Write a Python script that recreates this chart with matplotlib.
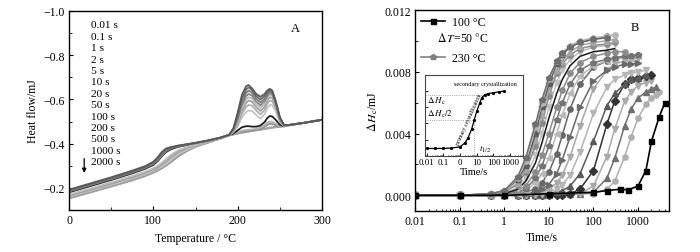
import numpy as np
import matplotlib
matplotlib.use('Agg')
import matplotlib.pyplot as plt
from matplotlib.lines import Line2D
from matplotlib.ticker import MultipleLocator, LogLocator, NullFormatter

plt.rcParams['font.family'] = ['Liberation Serif', 'DejaVu Serif']
plt.rcParams['mathtext.fontset'] = 'stix'
plt.rcParams['axes.unicode_minus'] = True

# ---------------- Panel A data (heat flow vs temperature) ----------------
temp_c = [0, 25, 50, 75, 90, 100, 105, 110, 115, 120, 125, 130, 140, 150, 165, 180,
          190, 195, 200, 205, 210, 213, 217, 222, 227, 232, 235, 238, 241, 245, 250, 255, 260, 280, 300]

anneal_labels = ['0.01 s', '0.1 s', '1 s', '2 s', '5 s', '10 s', '20 s', '50 s',
                 '100 s', '200 s', '500 s', '1000 s', '2000 s']

hf_0p01s = [-0.152, -0.179, -0.206, -0.234, -0.253, -0.268, -0.277, -0.288, -0.300, -0.314, -0.329, -0.343, -0.367, -0.386, -0.405, -0.424,
            -0.437, -0.442, -0.446, -0.450, -0.453, -0.455, -0.457, -0.460, -0.463, -0.466, -0.468, -0.470, -0.472, -0.474, -0.477, -0.480, -0.483, -0.495, -0.508]
hf_0p1s = [-0.154, -0.181, -0.208, -0.236, -0.255, -0.270, -0.279, -0.290, -0.302, -0.316, -0.331, -0.345, -0.368, -0.386, -0.406, -0.424,
           -0.437, -0.442, -0.446, -0.450, -0.453, -0.455, -0.458, -0.461, -0.464, -0.467, -0.470, -0.473, -0.474, -0.475, -0.477, -0.480, -0.483, -0.495, -0.508]
hf_1s = [-0.156, -0.183, -0.210, -0.238, -0.257, -0.272, -0.281, -0.292, -0.304, -0.318, -0.333, -0.347, -0.369, -0.387, -0.406, -0.424,
         -0.438, -0.443, -0.448, -0.453, -0.456, -0.458, -0.460, -0.463, -0.467, -0.476, -0.484, -0.490, -0.489, -0.483, -0.478, -0.479, -0.483, -0.495, -0.508]
hf_2s = [-0.158, -0.185, -0.212, -0.240, -0.259, -0.274, -0.283, -0.294, -0.307, -0.321, -0.336, -0.350, -0.371, -0.388, -0.407, -0.425,
         -0.438, -0.444, -0.450, -0.458, -0.462, -0.463, -0.464, -0.467, -0.472, -0.484, -0.494, -0.500, -0.499, -0.490, -0.480, -0.479, -0.483, -0.495, -0.508]
hf_5s = [-0.180, -0.208, -0.236, -0.266, -0.286, -0.304, -0.320, -0.343, -0.362, -0.373, -0.380, -0.386, -0.394, -0.402, -0.413, -0.427,
         -0.439, -0.446, -0.460, -0.474, -0.479, -0.479, -0.477, -0.477, -0.482, -0.498, -0.515, -0.525, -0.523, -0.508, -0.486, -0.478, -0.483, -0.495, -0.508]
hf_10s = [-0.160, -0.187, -0.214, -0.243, -0.262, -0.277, -0.286, -0.297, -0.310, -0.325, -0.340, -0.354, -0.374, -0.390, -0.408, -0.425,
          -0.438, -0.452, -0.478, -0.518, -0.543, -0.550, -0.548, -0.530, -0.513, -0.533, -0.560, -0.575, -0.573, -0.548, -0.497, -0.479, -0.483, -0.495, -0.508]
hf_20s = [-0.163, -0.190, -0.217, -0.246, -0.265, -0.280, -0.290, -0.302, -0.316, -0.331, -0.346, -0.360, -0.378, -0.392, -0.409, -0.425,
          -0.438, -0.455, -0.488, -0.535, -0.566, -0.575, -0.572, -0.550, -0.532, -0.552, -0.580, -0.595, -0.592, -0.562, -0.502, -0.480, -0.483, -0.495, -0.508]
hf_50s = [-0.166, -0.193, -0.221, -0.250, -0.269, -0.285, -0.295, -0.308, -0.323, -0.339, -0.354, -0.366, -0.382, -0.394, -0.410, -0.426,
          -0.439, -0.458, -0.495, -0.548, -0.585, -0.595, -0.590, -0.565, -0.548, -0.567, -0.594, -0.610, -0.606, -0.572, -0.506, -0.481, -0.483, -0.495, -0.508]
hf_100s = [-0.170, -0.197, -0.225, -0.254, -0.273, -0.289, -0.300, -0.314, -0.330, -0.346, -0.360, -0.371, -0.385, -0.396, -0.411, -0.426,
           -0.439, -0.460, -0.500, -0.560, -0.600, -0.610, -0.604, -0.578, -0.562, -0.580, -0.605, -0.622, -0.617, -0.580, -0.510, -0.482, -0.483, -0.495, -0.508]
hf_200s = [-0.184, -0.212, -0.240, -0.270, -0.290, -0.308, -0.324, -0.346, -0.366, -0.377, -0.383, -0.388, -0.395, -0.402, -0.413, -0.427,
           -0.440, -0.462, -0.510, -0.575, -0.615, -0.625, -0.617, -0.590, -0.574, -0.592, -0.615, -0.630, -0.624, -0.584, -0.512, -0.482, -0.484, -0.495, -0.508]
hf_500s = [-0.186, -0.214, -0.242, -0.272, -0.292, -0.311, -0.329, -0.352, -0.371, -0.380, -0.385, -0.389, -0.396, -0.403, -0.414, -0.427,
           -0.440, -0.465, -0.520, -0.590, -0.630, -0.640, -0.630, -0.603, -0.587, -0.603, -0.624, -0.637, -0.630, -0.588, -0.515, -0.483, -0.484, -0.495, -0.508]
hf_1000s = [-0.189, -0.217, -0.245, -0.275, -0.295, -0.314, -0.333, -0.357, -0.375, -0.382, -0.386, -0.390, -0.397, -0.403, -0.414, -0.428,
            -0.440, -0.468, -0.530, -0.605, -0.645, -0.655, -0.642, -0.615, -0.600, -0.615, -0.633, -0.644, -0.636, -0.592, -0.518, -0.484, -0.484, -0.495, -0.508]
hf_2000s = [-0.192, -0.220, -0.248, -0.278, -0.298, -0.318, -0.338, -0.362, -0.378, -0.384, -0.388, -0.392, -0.398, -0.404, -0.415, -0.428,
            -0.441, -0.470, -0.540, -0.620, -0.660, -0.665, -0.650, -0.625, -0.612, -0.625, -0.640, -0.648, -0.640, -0.595, -0.520, -0.485, -0.484, -0.495, -0.508]

# ---------------- Panel B data (ΔHc vs time) ----------------
time_grid = [0.01, 0.1, 0.5, 1, 2, 3, 5, 7, 10, 15, 20, 30, 50, 100, 200, 300, 500, 700, 1000, 1500, 2000, 2500, 3000]

dh_01 = [0.0000, 0.0000, 0.0001, 0.0003, 0.0012, 0.0024, 0.0046, 0.0062, 0.0076, 0.0087, 0.0092, 0.0096, 0.0099, 0.0101, 0.0102]
dh_02 = [0.0000, 0.0000, 0.0001, 0.0003, 0.0011, 0.0022, 0.0044, 0.0060, 0.0075, 0.0087, 0.0092, 0.0097, 0.0100, 0.0102, 0.0103, 0.0104]
dh_03 = [0.0000, 0.0000, 0.0001, 0.0003, 0.0010, 0.0019, 0.0040, 0.0057, 0.0072, 0.0085, 0.0091, 0.0096, 0.0099, 0.0101, 0.0103]
dh_04 = [0.0000, 0.0000, 0.0001, 0.0002, 0.0008, 0.0017, 0.0036, 0.0052, 0.0068, 0.0081, 0.0087, 0.0093, 0.0097, 0.0099, 0.0100, 0.0101]
dh_05 = [0.0000, 0.0000, 0.0001, 0.0002, 0.0007, 0.0015, 0.0032, 0.0047, 0.0064, 0.0079, 0.0085, 0.0091, 0.0095, 0.0097, 0.0098, 0.0099]
dh_06 = [0.0000, 0.0000, 0.0000, 0.0001, 0.0004, 0.0009, 0.0021, 0.0034, 0.0050, 0.0066, 0.0075, 0.0084, 0.0090, 0.0093, 0.0094, 0.0095]
dh_07 = [0.0000, 0.0000, 0.0000, 0.0001, 0.0005, 0.0011, 0.0026, 0.0040, 0.0057, 0.0073, 0.0081, 0.0088, 0.0093, 0.0096, 0.0097, 0.0098]
dh_08 = [0.0000, 0.0000, 0.0000, 0.0001, 0.0003, 0.0006, 0.0015, 0.0026, 0.0040, 0.0057, 0.0068, 0.0079, 0.0086, 0.0090, 0.0092, 0.0093, 0.0093]
dh_09 = [0.0000, 0.0000, 0.0000, 0.0001, 0.0002, 0.0004, 0.0011, 0.0019, 0.0032, 0.0049, 0.0060, 0.0072, 0.0081, 0.0086, 0.0088, 0.0089, 0.0090, 0.0090, 0.0091]
dh_10 = [0.0000, 0.0000, 0.0000, 0.0000, 0.0001, 0.0003, 0.0008, 0.0014, 0.0024, 0.0040, 0.0052, 0.0066, 0.0077, 0.0084, 0.0087, 0.0088, 0.0089, 0.0089, 0.0090]
dh_11 = [0.0000, 0.0000, 0.0000, 0.0000, 0.0001, 0.0002, 0.0004, 0.0008, 0.0015, 0.0027, 0.0039, 0.0056, 0.0072, 0.0083, 0.0087, 0.0089, 0.0090, 0.0090, 0.0091]
dh_12 = [0.0000, 0.0000, 0.0000, 0.0000, 0.0000, 0.0001, 0.0002, 0.0004, 0.0007, 0.0014, 0.0023, 0.0038, 0.0057, 0.0074, 0.0081, 0.0083, 0.0085, 0.0085, 0.0086]
dh_13 = [0.0000, 0.0000, 0.0000, 0.0000, 0.0000, 0.0000, 0.0001, 0.0002, 0.0004, 0.0008, 0.0013, 0.0025, 0.0045, 0.0069, 0.0081, 0.0085, 0.0087, 0.0088, 0.0089]
dh_14 = [0.0000, 0.0000, 0.0000, 0.0000, 0.0000, 0.0000, 0.0000, 0.0001, 0.0002, 0.0004, 0.0007, 0.0013, 0.0028, 0.0053, 0.0070, 0.0075, 0.0078, 0.0079, 0.0080, 0.0081]
dh_15 = [0.0000, 0.0000, 0.0000, 0.0000, 0.0000, 0.0000, 0.0000, 0.0000, 0.0001, 0.0002, 0.0003, 0.0006, 0.0014, 0.0035, 0.0058, 0.0066, 0.0072, 0.0075, 0.0076, 0.0078]
dh_16 = [0.0000, 0.0000, 0.0000, 0.0000, 0.0000, 0.0000, 0.0000, 0.0000, 0.0000, 0.0000, 0.0000, 0.0001, 0.0004, 0.0016, 0.0046, 0.0061, 0.0072, 0.0075, 0.0076, 0.0077, 0.0078]
dh_17 = [0.0000, 0.0000, 0.0000, 0.0000, 0.0000, 0.0000, 0.0000, 0.0000, 0.0000, 0.0001, 0.0001, 0.0001, 0.0001, 0.0006, 0.0025, 0.0043, 0.0061, 0.0067, 0.0071, 0.0073, 0.0074]
dh_18 = [0.0000, 0.0000, 0.0000, 0.0000, 0.0000, 0.0000, 0.0000, 0.0000, 0.0000, 0.0001, 0.0001, 0.0001, 0.0001, 0.0002, 0.0011, 0.0024, 0.0045, 0.0056, 0.0063, 0.0067, 0.0069, 0.0070]
dh_19 = [0.0000, 0.0000, 0.0000, 0.0000, 0.0000, 0.0000, 0.0000, 0.0000, 0.0001, 0.0001, 0.0001, 0.0001, 0.0001, 0.0001, 0.0004, 0.0009, 0.0025, 0.0038, 0.0050, 0.0059, 0.0063, 0.0065, 0.0067]

time_100C = [0.01, 0.1, 1, 10, 100, 200, 400, 600, 1000, 1500, 2000, 3000, 4000]
dh_100C = [0.0000, 0.0000, 0.0000, 0.0001, 0.0002, 0.0003, 0.0004, 0.00035, 0.0006, 0.0016, 0.0035, 0.0051, 0.0060]

# inset (schematic crystallization curve)
inset_time = [0.01, 0.03, 0.1, 0.3, 1, 2, 3, 5, 7, 10, 15, 20, 30, 50, 100, 200, 400]
inset_val = [0.09, 0.09, 0.09, 0.095, 0.11, 0.16, 0.22, 0.33, 0.44, 0.55, 0.65, 0.72, 0.755, 0.77, 0.78, 0.79, 0.80]
inset_dHc = 0.752
inset_half = 0.44
inset_t_half = 7
inset_xticks = [0.01, 0.1, 1, 10, 100, 1000]
inset_xticklabels = ['0.01', '0.1', '0', '10', '100', '1000']

# ---------------- Styles ----------------
a_series = [hf_0p01s, hf_0p1s, hf_1s, hf_2s, hf_5s, hf_10s, hf_20s, hf_50s,
            hf_100s, hf_200s, hf_500s, hf_1000s, hf_2000s]
a_colors = ['#9a9a9a', '#a5a5a5', '#8f8f8f', '#b0b0b0', '#1e1e1e', '#c4c4c4', '#b0b0b0',
            '#a0a0a0', '#bdbdbd', '#858585', '#7a7a7a', '#6a6a6a', '#5a5a5a']

b_series = [dh_19, dh_18, dh_17, dh_16, dh_15, dh_14, dh_13, dh_12, dh_11, dh_10,
            dh_09, dh_08, dh_07, dh_06, dh_05, dh_04, dh_03, dh_02, dh_01]
b_colors = ['#b0b0b0', '#707070', '#aaaaaa', '#333333', '#5a5a5a', '#b5b5b5', '#a8a8a8', '#6a6a6a',
            '#666666', '#b8b8b8', '#747474', '#8c8c8c', '#c0c0c0', '#1a1a1a', '#8a8a8a', '#a4a4a4',
            '#5c5c5c', '#b4b4b4', '#6e6e6e']
b_markers = ['o', '^', 'v', 'D', '^', 'v', 'v', '>', 'o', '<', 'p', 'o', 'v', '', 'o', '^', 'p', 'o', 'p']

fig = plt.figure(figsize=(7.0, 2.53), dpi=100)

# ---------------- Panel A ----------------
axA = fig.add_axes([0.0986, 0.166, 0.3614, 0.7866])
for ser, col in zip(a_series, a_colors):
    axA.plot(temp_c, ser, color=col, lw=1.3, solid_joinstyle='round')
axA.set_xlim(0, 300)
axA.set_ylim(-0.1, -1.0)
axA.set_xticks([0, 100, 200, 300])
axA.set_yticks([-1.0, -0.8, -0.6, -0.4, -0.2])
axA.set_yticklabels(['\u22121.0', '\u22120.8', '\u22120.6', '\u22120.4', '\u22120.2'])
axA.xaxis.set_minor_locator(MultipleLocator(50))
axA.yaxis.set_minor_locator(MultipleLocator(0.1))
axA.tick_params(which='both', direction='in', labelsize=8.5, top=False, right=False, pad=3)
axA.tick_params(which='major', length=3)
axA.tick_params(which='minor', length=2)
axA.set_xlabel('Temperature / \u00b0C', fontsize=8.5, labelpad=4)
axA.set_ylabel('Heat flow/mJ', fontsize=8.5, labelpad=3)
for sp in axA.spines.values():
    sp.set_linewidth(1.0)
for i, lab in enumerate(anneal_labels):
    axA.text(0.086, 0.93 - i * 0.0573, lab, transform=axA.transAxes, fontsize=8.2,
             ha='left', va='center')
axA.text(0.893, 0.913, 'A', transform=axA.transAxes, fontsize=9, ha='center', va='center')
axA.annotate('', xy=(18, -0.255), xytext=(18, -0.345),
             arrowprops=dict(arrowstyle='-|>', color='k', lw=0.9, mutation_scale=6))

# ---------------- Panel B ----------------
axB = fig.add_axes([0.593, 0.163, 0.363, 0.7935])
for ser, col, mk in zip(b_series, b_colors, b_markers):
    axB.plot(time_grid[:len(ser)], ser, color=col, lw=1.1, marker=mk if mk else None,
             ms=3.8, mec=col, mfc=col)
axB.plot(time_100C, dh_100C, color='k', lw=1.2, marker='s', ms=3.6)
axB.set_xscale('log')
axB.set_xlim(0.01, 5000)
axB.set_ylim(-0.001, 0.012)
axB.set_xticks([0.01, 0.1, 1, 10, 100, 1000])
axB.set_xticklabels(['0.01', '0.1', '1', '10', '100', '1000'])
axB.xaxis.set_minor_locator(LogLocator(base=10, subs=np.arange(2, 10), numticks=20))
axB.xaxis.set_minor_formatter(NullFormatter())
axB.set_yticks([0.0, 0.004, 0.008, 0.012])
axB.set_yticklabels(['0.000', '0.004', '0.008', '0.012'])
axB.yaxis.set_minor_locator(MultipleLocator(0.002))
axB.tick_params(which='both', direction='in', labelsize=8.5, top=False, right=False, pad=3)
axB.tick_params(which='major', length=3)
axB.tick_params(which='minor', length=1.8)
axB.set_xlabel('Time/s', fontsize=8.5, labelpad=3)
axB.set_ylabel(r'$\Delta\,\mathit{H}_{\mathrm{c}}$/mJ', fontsize=8.5, labelpad=3)
for sp in axB.spines.values():
    sp.set_linewidth(1.0)
axB.text(0.866, 0.914, 'B', transform=axB.transAxes, fontsize=9, ha='center', va='center')

handles = [Line2D([], [], color='k', lw=1.2, marker='s', ms=3.6),
           Line2D([], [], color='none'),
           Line2D([], [], color='#808080', lw=1.2, marker='p', ms=4)]
axB.legend(handles, ['100 \u00b0C', ' ', '230 \u00b0C'], loc='upper left', frameon=False,
           fontsize=8.5, handlelength=2.0, handletextpad=0.65, labelspacing=0.5,
           borderaxespad=0.2, borderpad=0.3)
axB.text(0.085, 0.864, r'$\Delta\,\mathit{T}$=50 $\degree$C', transform=axB.transAxes,
         fontsize=8.5, ha='left', va='center')

# ---------------- Inset ----------------
axI = fig.add_axes([0.607, 0.3806, 0.1396, 0.319])
axI.set_facecolor('white')
axI.set_xscale('log')
axI.set_xlim(0.008, 5500)
axI.set_ylim(0, 1)
axI.plot([0.008, 30], [inset_dHc, inset_dHc], color='#888888', lw=0.6, ls=':')
axI.plot([0.008, inset_t_half], [inset_half, inset_half], color='#888888', lw=0.6, ls=':')
axI.plot([inset_t_half, inset_t_half], [0, inset_half], color='#888888', lw=0.6, ls=':')
axI.plot(inset_time, inset_val, color='k', lw=0.9, marker='o', ms=1.3)
axI.set_xticks(inset_xticks)
axI.set_xticklabels(inset_xticklabels)
axI.xaxis.set_minor_locator(LogLocator(base=10, subs=np.arange(2, 10), numticks=20))
axI.xaxis.set_minor_formatter(NullFormatter())
axI.set_yticks([0.2, 0.4, 0.6, 0.8])
axI.set_yticklabels([])
axI.tick_params(which='both', direction='in', labelsize=6.5, top=False, right=False, pad=1.5)
axI.tick_params(which='major', length=2, width=0.6)
axI.tick_params(which='minor', length=1, width=0.5)
for sp in axI.spines.values():
    sp.set_linewidth(0.8)
    sp.set_color('#444444')
axI.set_xlabel('Time/s', fontsize=7.5, labelpad=1)
axI.text(0.42, 0.89, 'secondary crystallization', fontsize=4.5, ha='left', va='center')
axI.text(0.011, 0.68, r'$\Delta\,\mathit{H}_{\mathrm{c}}$', fontsize=6.5, ha='left', va='center')
axI.text(0.011, 0.53, r'$\Delta\,\mathit{H}_{\mathrm{c}}/2$', fontsize=6.5, ha='left', va='center')
axI.text(3.3, 0.46, 'primary crystallization', fontsize=4.3, ha='center', va='center', rotation=66)
axI.text(13, 0.09, r'$\mathit{t}_{1/2}$', fontsize=6.5, ha='left', va='center')

fig.savefig('out.png', dpi=100)
